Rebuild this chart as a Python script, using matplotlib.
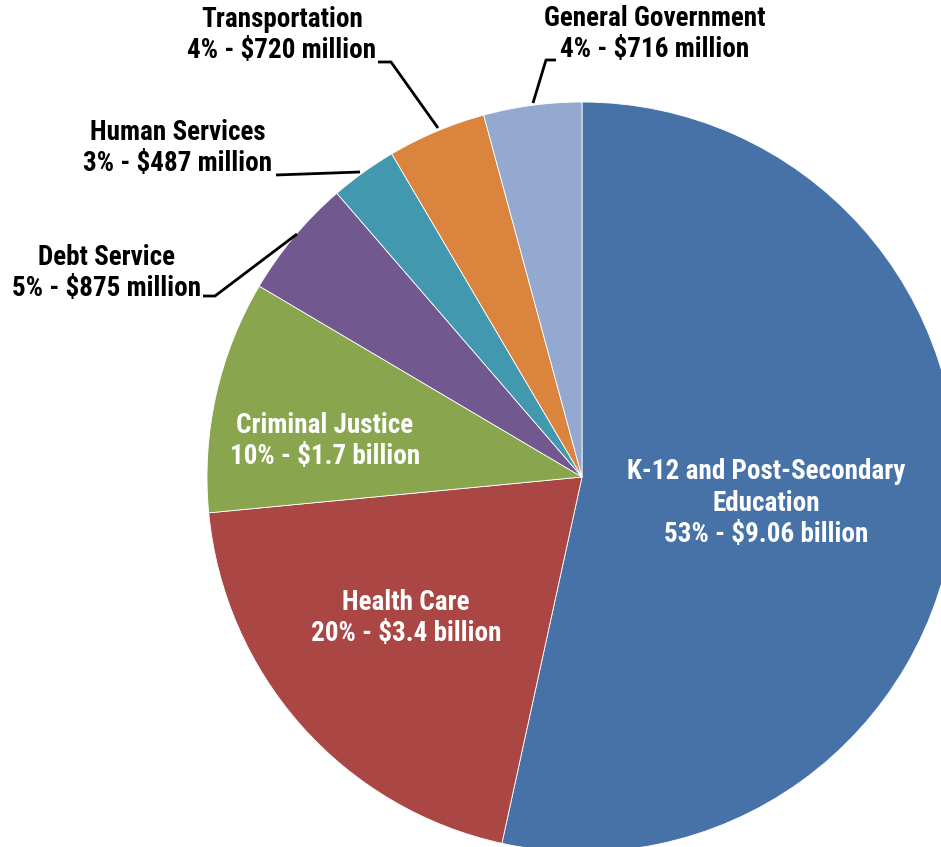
import matplotlib.pyplot as plt

W, H = 941, 847

categories = ["K-12 and Post-Secondary\nEducation", "Health Care", "Criminal Justice",
              "Debt Service", "Human Services", "Transportation", "General Government"]
amounts = [9.06, 3.4, 1.7, 0.875, 0.487, 0.720, 0.716]  # billions
amount_text = ["$9.06 billion", "$3.4 billion", "$1.7 billion", "$875 million",
               "$487 million", "$720 million", "$716 million"]
colors = ["#4672A7", "#AA4644", "#89A54E", "#71588F", "#4198AF", "#DB843D", "#93A9CF"]

plt.rcParams["font.family"] = ["Roboto Condensed", "DejaVu Sans"]

fig = plt.figure(figsize=(W / 100, H / 100), dpi=100)
ax = fig.add_axes([0, 0, 1, 1])

cx, cy, r = 582, H - 477, 375
ax.pie(amounts, colors=colors, startangle=90, counterclock=False,
       center=(cx, cy), radius=r, frame=True,
       wedgeprops=dict(edgecolor="white", linewidth=0.6))
ax.set_xlim(0, W)
ax.set_ylim(0, H)
ax.set_aspect("equal")
ax.axis("off")

total = sum(amounts)
labels = [f"{c}\n{round(a / total * 100):.0f}% - {t}"
          for c, a, t in zip(categories, amounts, amount_text)]

# label positions in pixel coords (x, y of block centre), text colour
spots = [(766, 503, "white"), (406, 618, "white"), (325, 441, "white"),
         (107, 273, "black"), (178, 148, "black"), (282, 35, "black"),
         (655, 34, "black")]
for lab, (x, y, col) in zip(labels, spots):
    ax.text(x, H - y, lab, ha="center", va="center", color=col,
            fontsize=19.5, fontweight="bold", linespacing=1.22)

# leader lines
leaders = [
    [(203, 296), (215, 296), (297, 234)],
    [(276, 175), (360, 172)],
    [(378, 62), (391, 62), (438, 128)],
    [(556, 60), (546, 60), (533, 103)],
]
for pts in leaders:
    xs = [p[0] for p in pts]
    ys = [H - p[1] for p in pts]
    ax.plot(xs, ys, color="black", linewidth=2, solid_capstyle="butt")

fig.savefig("out.png", dpi=100)
